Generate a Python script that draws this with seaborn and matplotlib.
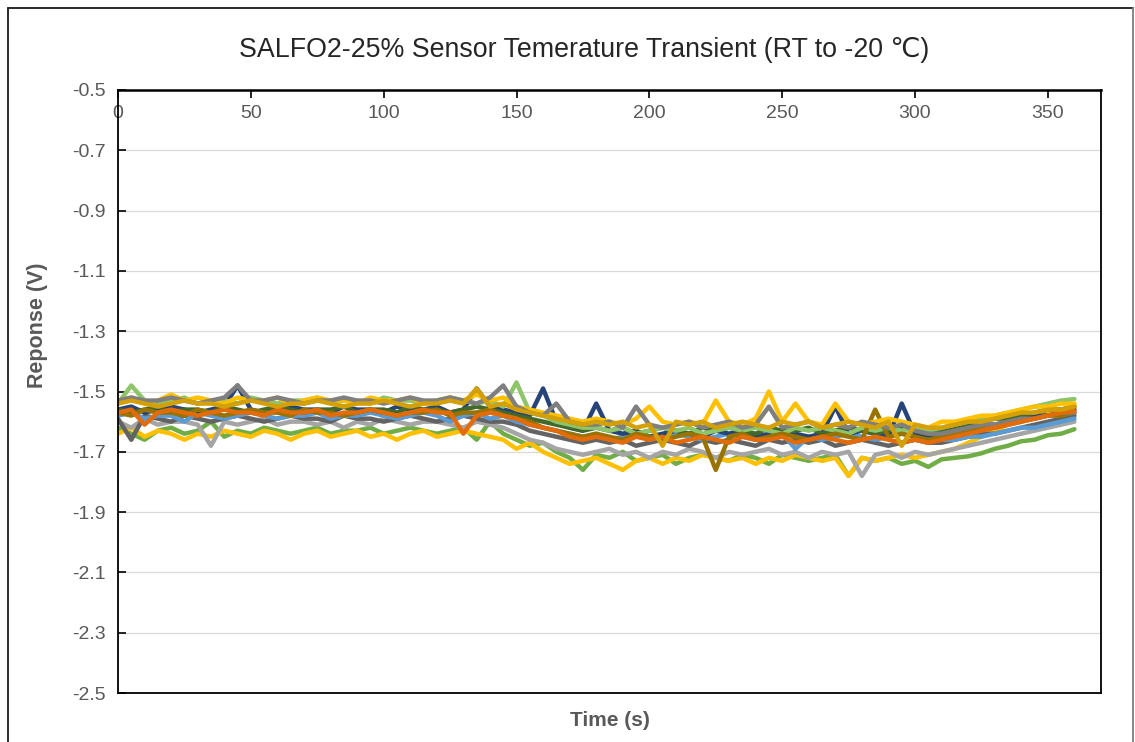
import numpy as np
import pandas as pd
import matplotlib.pyplot as plt
import seaborn as sns
from matplotlib.lines import Line2D

sns.set_theme(style="white")
plt.rcParams['font.family'] = ['Liberation Sans', 'DejaVu Sans']

# time axis (s), one reading every 5 s
time_s = np.arange(0, 365, 5)

# sensor responses (V)
green = [-1.62, -1.64, -1.66, -1.63, -1.62, -1.64, -1.63, -1.60, -1.65, -1.63,
         -1.64, -1.62, -1.63, -1.64, -1.63, -1.62, -1.64, -1.63, -1.63, -1.62,
         -1.64, -1.63, -1.62, -1.63, -1.64, -1.63, -1.62, -1.66, -1.60,
         -1.64, -1.66, -1.68, -1.67, -1.70, -1.72, -1.76,
         -1.71, -1.72, -1.70, -1.73, -1.72, -1.71, -1.74, -1.72, -1.71, -1.72,
         -1.73, -1.71, -1.72, -1.74, -1.71, -1.72, -1.73, -1.72, -1.71, -1.78,
         -1.72, -1.73, -1.72, -1.74, -1.73, -1.75,
         -1.725, -1.72, -1.715, -1.705, -1.69, -1.68, -1.665, -1.66, -1.645, -1.64, -1.625]

yellow_low = [-1.64, -1.62, -1.65, -1.63, -1.64, -1.66, -1.64, -1.65, -1.63, -1.64,
              -1.65, -1.63, -1.64, -1.66, -1.64, -1.63, -1.65, -1.64, -1.63, -1.65,
              -1.64, -1.66, -1.64, -1.63, -1.65, -1.64, -1.63, -1.64, -1.65,
              -1.66, -1.69, -1.67, -1.70, -1.72, -1.74, -1.73,
              -1.72, -1.74, -1.76, -1.73, -1.72, -1.74, -1.72, -1.73, -1.71, -1.72,
              -1.73, -1.72, -1.74, -1.72, -1.73, -1.71, -1.72, -1.73, -1.72, -1.78,
              -1.72, -1.73, -1.72, -1.71, -1.72, -1.71,
              -1.70, -1.69, -1.67, -1.65, -1.63, -1.61, -1.60, -1.58, -1.57, -1.56, -1.55]

light_gray = [-1.60, -1.62, -1.59, -1.61, -1.60, -1.60, -1.61, -1.68, -1.60, -1.61,
              -1.60, -1.59, -1.61, -1.60, -1.60, -1.61, -1.60, -1.62, -1.60, -1.61,
              -1.59, -1.60, -1.61, -1.60, -1.60, -1.61, -1.62, -1.60, -1.61,
              -1.62, -1.64, -1.66, -1.67, -1.69, -1.70, -1.71,
              -1.70, -1.69, -1.71, -1.70, -1.72, -1.70, -1.71, -1.69, -1.70, -1.72,
              -1.70, -1.71, -1.70, -1.69, -1.71, -1.70, -1.72, -1.70, -1.71, -1.70,
              -1.78, -1.71, -1.70, -1.72, -1.70, -1.71,
              -1.70, -1.69, -1.68, -1.67, -1.66, -1.65, -1.64, -1.63, -1.62, -1.61, -1.60]

dark_gray = [-1.59, -1.66, -1.58, -1.59, -1.60, -1.58, -1.59, -1.60, -1.59, -1.58,
             -1.59, -1.60, -1.59, -1.58, -1.59, -1.59, -1.60, -1.58, -1.59, -1.59,
             -1.60, -1.59, -1.58, -1.59, -1.60, -1.59, -1.58, -1.59, -1.60,
             -1.60, -1.61, -1.63, -1.64, -1.65, -1.66, -1.67,
             -1.66, -1.67, -1.66, -1.68, -1.67, -1.66, -1.67, -1.68, -1.66, -1.67,
             -1.66, -1.67, -1.68, -1.66, -1.67, -1.66, -1.67, -1.66, -1.68, -1.67,
             -1.66, -1.67, -1.68, -1.67, -1.66, -1.67,
             -1.67, -1.66, -1.65, -1.64, -1.64, -1.63, -1.62, -1.61, -1.60, -1.59, -1.58]

light_blue = [-1.58, -1.57, -1.59, -1.58, -1.58, -1.60, -1.57, -1.58, -1.59, -1.58,
              -1.57, -1.58, -1.59, -1.58, -1.58, -1.57, -1.59, -1.58, -1.58, -1.57,
              -1.58, -1.59, -1.58, -1.57, -1.58, -1.60, -1.58, -1.57, -1.59,
              -1.58, -1.60, -1.61, -1.62, -1.63, -1.64, -1.65,
              -1.64, -1.66, -1.65, -1.64, -1.66, -1.65, -1.64, -1.65, -1.66, -1.65,
              -1.64, -1.65, -1.66, -1.65, -1.64, -1.69, -1.65, -1.66, -1.65, -1.64,
              -1.65, -1.66, -1.65, -1.64, -1.65, -1.66,
              -1.66, -1.66, -1.65, -1.65, -1.64, -1.63, -1.62, -1.62, -1.61, -1.60, -1.59]

navy = [-1.56, -1.55, -1.57, -1.56, -1.55, -1.56, -1.57, -1.56, -1.55, -1.48,
        -1.56, -1.57, -1.56, -1.55, -1.56, -1.56, -1.57, -1.55, -1.56, -1.56,
        -1.57, -1.55, -1.56, -1.56, -1.55, -1.57, -1.56, -1.49, -1.55,
        -1.56, -1.57, -1.58, -1.49, -1.60, -1.62, -1.63,
        -1.54, -1.63, -1.64, -1.63, -1.65, -1.64, -1.63, -1.64, -1.65, -1.63,
        -1.64, -1.63, -1.65, -1.64, -1.63, -1.64, -1.65, -1.64, -1.55, -1.64,
        -1.63, -1.64, -1.65, -1.54, -1.64, -1.65,
        -1.64, -1.63, -1.62, -1.61, -1.61, -1.60, -1.59, -1.58, -1.58, -1.57, -1.56]

dark_green = [-1.56, -1.57, -1.56, -1.55, -1.57, -1.56, -1.56, -1.57, -1.55, -1.56,
              -1.57, -1.56, -1.55, -1.56, -1.57, -1.56, -1.56, -1.55, -1.57, -1.56,
              -1.56, -1.57, -1.55, -1.56, -1.56, -1.57, -1.56, -1.55, -1.56,
              -1.57, -1.58, -1.59, -1.60, -1.61, -1.62, -1.63,
              -1.62, -1.63, -1.62, -1.64, -1.63, -1.62, -1.63, -1.64, -1.62, -1.63,
              -1.62, -1.63, -1.64, -1.62, -1.63, -1.63, -1.62, -1.64, -1.63, -1.62,
              -1.63, -1.64, -1.63, -1.62, -1.63, -1.64,
              -1.63, -1.62, -1.61, -1.60, -1.59, -1.59, -1.58, -1.57, -1.56, -1.56, -1.55]

light_green = [-1.54, -1.48, -1.53, -1.54, -1.53, -1.52, -1.54, -1.53, -1.53, -1.54,
               -1.52, -1.53, -1.54, -1.53, -1.53, -1.52, -1.54, -1.53, -1.53, -1.54,
               -1.52, -1.53, -1.53, -1.54, -1.53, -1.52, -1.53, -1.54, -1.53,
               -1.55, -1.47, -1.57, -1.58, -1.60, -1.61, -1.62,
               -1.62, -1.63, -1.62, -1.64, -1.63, -1.62, -1.63, -1.62, -1.64, -1.63,
               -1.62, -1.63, -1.62, -1.63, -1.64, -1.62, -1.63, -1.62, -1.63, -1.64,
               -1.62, -1.63, -1.62, -1.63, -1.62, -1.63,
               -1.62, -1.61, -1.60, -1.59, -1.58, -1.57, -1.56, -1.55, -1.54, -1.53, -1.525]

brown = [-1.57, -1.58, -1.56, -1.57, -1.57, -1.58, -1.56, -1.57, -1.58, -1.57,
         -1.56, -1.57, -1.57, -1.58, -1.56, -1.57, -1.57, -1.58, -1.57, -1.56,
         -1.57, -1.58, -1.57, -1.57, -1.56, -1.58, -1.57, -1.57, -1.56,
         -1.58, -1.59, -1.60, -1.62, -1.63, -1.64, -1.65,
         -1.64, -1.65, -1.66, -1.64, -1.65, -1.66, -1.65, -1.64, -1.65, -1.76,
         -1.65, -1.64, -1.66, -1.65, -1.64, -1.65, -1.66, -1.65, -1.64, -1.65,
         -1.66, -1.56, -1.65, -1.64, -1.65, -1.66,
         -1.65, -1.64, -1.63, -1.62, -1.62, -1.61, -1.60, -1.59, -1.58, -1.58, -1.57]

yellow_high = [-1.53, -1.52, -1.54, -1.53, -1.51, -1.53, -1.52, -1.53, -1.54, -1.52,
               -1.53, -1.53, -1.52, -1.54, -1.53, -1.52, -1.53, -1.53, -1.54, -1.52,
               -1.53, -1.53, -1.52, -1.54, -1.53, -1.52, -1.53, -1.51, -1.53,
               -1.52, -1.55, -1.56, -1.57, -1.58, -1.59, -1.60,
               -1.59, -1.60, -1.61, -1.59, -1.55, -1.60, -1.61, -1.60, -1.61, -1.53,
               -1.60, -1.61, -1.59, -1.50, -1.60, -1.54, -1.60, -1.61, -1.54, -1.60,
               -1.61, -1.60, -1.59, -1.60, -1.61, -1.62,
               -1.60, -1.60, -1.59, -1.58, -1.58, -1.57, -1.56, -1.55, -1.55, -1.54, -1.54]

gray = [-1.53, -1.52, -1.53, -1.53, -1.52, -1.53, -1.54, -1.53, -1.52, -1.48,
        -1.53, -1.53, -1.52, -1.53, -1.54, -1.53, -1.53, -1.52, -1.53, -1.53,
        -1.54, -1.53, -1.52, -1.53, -1.53, -1.52, -1.53, -1.54, -1.52,
        -1.48, -1.55, -1.57, -1.58, -1.54, -1.60, -1.61,
        -1.61, -1.60, -1.62, -1.55, -1.61, -1.62, -1.61, -1.60, -1.62, -1.61,
        -1.60, -1.62, -1.61, -1.55, -1.62, -1.61, -1.60, -1.62, -1.61, -1.62,
        -1.60, -1.61, -1.62, -1.61, -1.63, -1.64,
        -1.64, -1.63, -1.62, -1.61, -1.61, -1.60, -1.59, -1.59, -1.58, -1.57, -1.57]

orange = [-1.57, -1.56, -1.61, -1.57, -1.56, -1.57, -1.58, -1.57, -1.56, -1.57,
          -1.57, -1.58, -1.56, -1.57, -1.57, -1.56, -1.58, -1.57, -1.57, -1.56,
          -1.57, -1.58, -1.57, -1.56, -1.57, -1.57, -1.64, -1.58, -1.57,
          -1.58, -1.59, -1.61, -1.62, -1.63, -1.65, -1.66,
          -1.65, -1.66, -1.67, -1.65, -1.66, -1.65, -1.67, -1.66, -1.65, -1.66,
          -1.67, -1.65, -1.66, -1.66, -1.65, -1.67, -1.66, -1.65, -1.66, -1.67,
          -1.66, -1.65, -1.66, -1.67, -1.66, -1.67,
          -1.66, -1.65, -1.64, -1.63, -1.62, -1.61, -1.60, -1.59, -1.58, -1.57, -1.565]

mustard = [-1.54, -1.53, -1.54, -1.55, -1.54, -1.53, -1.54, -1.54, -1.55, -1.54,
           -1.53, -1.54, -1.55, -1.54, -1.54, -1.53, -1.54, -1.55, -1.54, -1.54,
           -1.53, -1.54, -1.55, -1.54, -1.54, -1.53, -1.54, -1.49, -1.55,
           -1.54, -1.56, -1.57, -1.58, -1.59, -1.60, -1.61,
           -1.60, -1.61, -1.60, -1.62, -1.61, -1.68, -1.60, -1.61, -1.60, -1.62,
           -1.61, -1.60, -1.61, -1.62, -1.60, -1.61, -1.60, -1.62, -1.61, -1.60,
           -1.61, -1.62, -1.60, -1.68, -1.61, -1.62,
           -1.62, -1.61, -1.60, -1.60, -1.59, -1.58, -1.57, -1.57, -1.56, -1.56, -1.55]

# drawing order, bottom to top
series_names = ['green', 'yellow_low', 'light_gray', 'dark_gray', 'light_blue', 'navy',
                'dark_green', 'light_green', 'brown', 'yellow_high', 'gray', 'orange', 'mustard']
series_values = [green, yellow_low, light_gray, dark_gray, light_blue, navy,
                 dark_green, light_green, brown, yellow_high, gray, orange, mustard]
series_colors = ['#70AD47', '#FFC000', '#A5A5A5', '#636363', '#5B9BD5', '#264478',
                 '#43682B', '#8EC46A', '#997300', '#FFC000', '#7F7F7F', '#E36C0A', '#D4A00A']

frames = []
for name, vals in zip(series_names, series_values):
    assert len(vals) == len(time_s), (name, len(vals))
    frames.append(pd.DataFrame({'Time': time_s, 'Response': vals, 'Sensor': name}))
df = pd.concat(frames, ignore_index=True)

fig = plt.figure(figsize=(11.35, 7.42), dpi=100)
ax = fig.add_axes([118 / 1135, 49 / 742, 983 / 1135, 603 / 742])

sns.lineplot(data=df, x='Time', y='Response', hue='Sensor', hue_order=series_names,
             palette=series_colors, linewidth=3.2, estimator=None, legend=False, ax=ax)

ax.set_xlim(0, 370)
ax.set_ylim(-2.5, -0.5)
ax.set_yticks(np.arange(-2.5, -0.49, 0.2))
ax.set_yticklabels([f"{v:.1f}" for v in np.arange(-2.5, -0.49, 0.2)])
ax.set_xticks(np.arange(0, 351, 50))
ax.yaxis.grid(True, color='#D9D9D9', linewidth=0.9)
ax.xaxis.grid(False)
ax.set_axisbelow(True)

ax.xaxis.tick_top()
ax.tick_params(axis='x', top=True, bottom=False, labeltop=True, labelbottom=False,
               direction='in', length=6, width=1.2, color='black', pad=-23,
               labelsize=14, labelcolor='#595959')
ax.tick_params(axis='y', left=True, direction='in', length=6, width=1.2, color='black',
               pad=9, labelsize=14, labelcolor='#595959')

for side in ['left', 'right', 'bottom']:
    ax.spines[side].set_color('black')
    ax.spines[side].set_linewidth(1.3)
ax.spines['top'].set_color('black')
ax.spines['top'].set_linewidth(1.8)

ax.set_xlabel('')
ax.set_ylabel('')
fig.text(37 / 1135, 1 - 325 / 742, 'Reponse (V)', ha='center', va='center', rotation=90,
         fontsize=15.5, fontweight='bold', color='#595959')
fig.text(610 / 1135, 1 - 721 / 742, 'Time (s)', ha='center', va='center',
         fontsize=15, fontweight='bold', color='#595959')
fig.text(584 / 1135, 1 - 50 / 742, 'SALFO2-25% Sensor Temerature Transient (RT to -20 \u2103)',
         ha='center', va='center', fontsize=19.3, color='#262626')

# outer chart frame
fig.add_artist(Line2D([8 / 1135, 8 / 1135], [0, 1 - 8 / 742], transform=fig.transFigure,
                      color='#1a1a1a', linewidth=1.3))
fig.add_artist(Line2D([8 / 1135, 1133 / 1135], [1 - 8 / 742, 1 - 8 / 742],
                      transform=fig.transFigure, color='#1a1a1a', linewidth=1.3))
fig.add_artist(Line2D([1133 / 1135, 1133 / 1135], [0, 1 - 8 / 742], transform=fig.transFigure,
                      color='#7f7f7f', linewidth=1.3))

fig.savefig('out.png', dpi=100)
plt.close(fig)
